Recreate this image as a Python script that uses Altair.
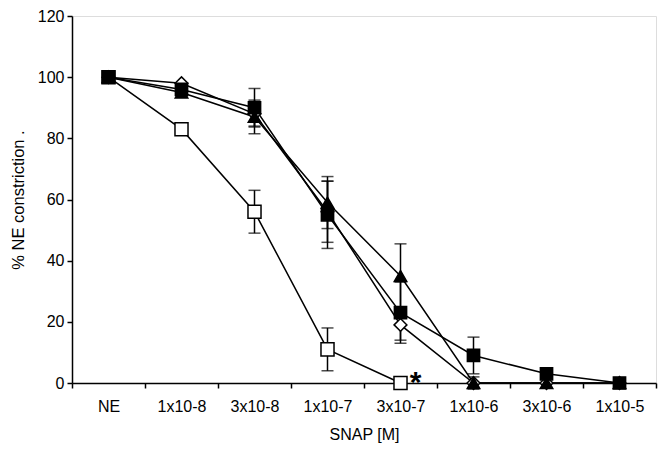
import altair as alt
import pandas as pd

cats = ["NE", "1x10-8", "3x10-8", "1x10-7", "3x10-7", "1x10-6", "3x10-6", "1x10-5"]

open_sq = [100, 83, 56, 11, 0, None, None, None]
open_sq_err = [0, 0, 7, 7, 0, None, None, None]
diamond = [100, 98, 88, 56, 19, 0, 0, 0]
diamond_err = [0, 0, 4, 10, 5, 2, 0, 0]
triangle = [100, 95, 87, 59, 35, 0, 0, 0]
triangle_err = [0, 1, 5.5, 8.5, 10.5, 0, 0, 0]
filled_sq = [100, 96, 90, 55, 23, 9, 3, 0]
filled_sq_err = [0, 2, 6.3, 11, 10, 6, 0, 0]

series = [
    ("open square", open_sq, open_sq_err),
    ("open diamond", diamond, diamond_err),
    ("filled triangle", triangle, triangle_err),
    ("filled square", filled_sq, filled_sq_err),
]

rows = []
for order, (name, vals, errs) in enumerate(series):
    for c, v, e in zip(cats, vals, errs):
        if v is None:
            continue
        rows.append({"conc": c, "value": v, "err": e, "series": name,
                     "lo": v - e, "hi": v + e, "order": order})
df = pd.DataFrame(rows)
err_df = df[df["err"] > 0]

star_df = pd.DataFrame({"conc": ["3x10-7"], "value": [0], "label": ["*"]})

font = "Liberation Sans"

x_enc = alt.X("conc:N", sort=cats,
              scale=alt.Scale(type="band", domain=cats, paddingInner=0, paddingOuter=0),
              axis=alt.Axis(title="SNAP [M]", labelAngle=0, tickBand="extent",
                            domainColor="black", tickColor="black", tickSize=5,
                            domainWidth=1.5, tickWidth=1.5,
                            labelFont=font, labelFontSize=16, labelColor="black",
                            labelPadding=10, titleFont=font, titleFontSize=16,
                            titleFontWeight="normal", titleColor="black", titlePadding=12,
                            grid=False))
y_scale = alt.Scale(domain=[0, 120], nice=False, zero=True)
y_enc = alt.Y("value:Q", scale=y_scale,
              axis=alt.Axis(title="% NE constriction .", values=[0, 20, 40, 60, 80, 100, 120],
                            domainColor="black", tickColor="black", tickSize=5,
                            domainWidth=1.5, tickWidth=1.5,
                            labelFont=font, labelFontSize=16, labelColor="black",
                            labelPadding=3, titleFont=font, titleFontSize=16.5,
                            titleFontWeight="normal", titleColor="black", titlePadding=11,
                            grid=False))

base = alt.Chart(df)

lines = base.mark_line(color="black", strokeWidth=1.5).encode(
    x=x_enc, y=y_enc, detail="series:N", order="order:Q"
)

err_base = alt.Chart(err_df)
err_rules = err_base.mark_rule(color="black", strokeWidth=1.5).encode(
    x=alt.X("conc:N", sort=cats), y=alt.Y("lo:Q", scale=y_scale), y2="hi:Q"
)
cap_hi = err_base.mark_tick(color="black", thickness=1.5, size=12, orient="horizontal").encode(
    x=alt.X("conc:N", sort=cats), y=alt.Y("hi:Q", scale=y_scale)
)
cap_lo = err_base.mark_tick(color="black", thickness=1.5, size=12, orient="horizontal").encode(
    x=alt.X("conc:N", sort=cats), y=alt.Y("lo:Q", scale=y_scale)
)

names = [s[0] for s in series]
points = base.mark_point(filled=True, stroke="black", strokeWidth=1.5, opacity=1).encode(
    x=alt.X("conc:N", sort=cats),
    y=alt.Y("value:Q", scale=y_scale),
    shape=alt.Shape("series:N", scale=alt.Scale(domain=names,
                    range=["square", "diamond", "triangle-up", "square"]), legend=None),
    fill=alt.Fill("series:N", scale=alt.Scale(domain=names,
                  range=["white", "white", "black", "black"]), legend=None),
    size=alt.Size("series:N", scale=alt.Scale(domain=names,
                  range=[170, 150, 160, 170]), legend=None),
    order="order:Q",
)

star = alt.Chart(star_df).mark_text(text="*", font=font, fontSize=30, fontWeight="bold",
                                    color="black", dx=15, dy=0).encode(
    x=alt.X("conc:N", sort=cats), y=alt.Y("value:Q", scale=y_scale)
)

chart = alt.layer(lines, err_rules, cap_hi, cap_lo, points, star).properties(
    width=584, height=367,
    padding={"left": 64, "top": 8, "right": 2, "bottom": 60},
    autosize=alt.AutoSizeParams(type="none"),
).configure_view(stroke=None).configure(background="white")

chart.save("out.html", embed_options={"renderer": "svg", "actions": False})
